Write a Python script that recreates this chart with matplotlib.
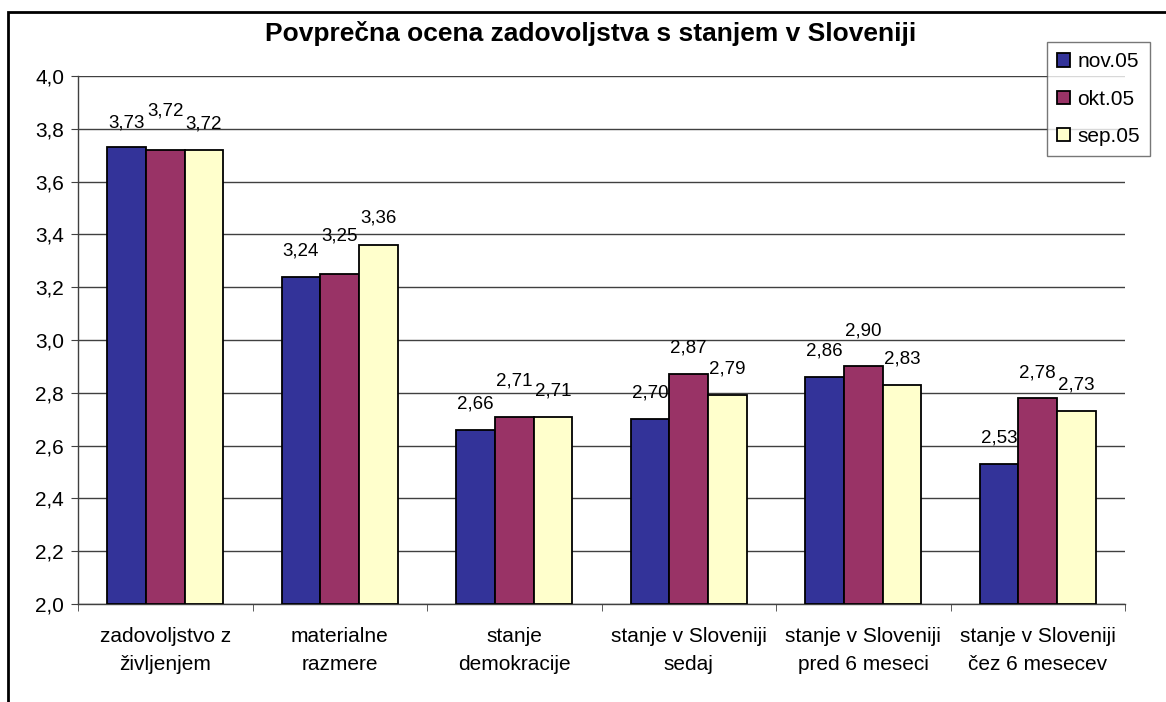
"""Average rating of satisfaction with the state in Slovenia - grouped bar chart."""

import matplotlib

matplotlib.use("Agg")
import matplotlib.pyplot as plt
import numpy as np
from matplotlib.patches import Rectangle

categories = [
    "zadovoljstvo z\nživljenjem",
    "materialne\nrazmere",
    "stanje\ndemokracije",
    "stanje v Sloveniji\nsedaj",
    "stanje v Sloveniji\npred 6 meseci",
    "stanje v Sloveniji\nčez 6 mesecev",
]
series_names = ["nov.05", "okt.05", "sep.05"]
nov_05 = [3.73, 3.24, 2.66, 2.70, 2.86, 2.53]
okt_05 = [3.72, 3.25, 2.71, 2.87, 2.90, 2.78]
sep_05 = [3.72, 3.36, 2.71, 2.79, 2.83, 2.73]
y_ticks = [2.0, 2.2, 2.4, 2.6, 2.8, 3.0, 3.2, 3.4, 3.6, 3.8, 4.0]

colors = ["#333399", "#993366", "#FFFFCC"]
# label lift above bar top, in pixels (Excel bumped some labels up)
label_lift = [
    [24, 26, 26, 26, 26, 26],
    [39, 38, 36, 26, 35, 25],
    [26, 27, 26, 26, 26, 26],
]

plt.rcParams["font.family"] = ["Liberation Sans", "DejaVu Sans"]

fig = plt.figure(figsize=(11.66, 7.02), dpi=100)
ax = fig.add_axes([78 / 1166, 1 - 604 / 702, (1125 - 78) / 1166, (604 - 76) / 702])

# figure frame (cropped on right and bottom)
fig.patches.append(
    Rectangle((8 / 1166, -0.1), 1.2, 1.1 - 12 / 702, transform=fig.transFigure,
              fill=False, edgecolor="black", linewidth=2, zorder=10)
)

x = np.arange(len(categories))
bar_w = 0.222
all_series = [nov_05, okt_05, sep_05]
for i, (name, vals, col) in enumerate(zip(series_names, all_series, colors)):
    xs = x + (i - 1) * bar_w
    ax.bar(xs, np.array(vals) - 2.0, bottom=2.0, width=bar_w, color=col,
           edgecolor="black", linewidth=1.3, label=name, zorder=3)
    for xi, v, lift in zip(xs, vals, label_lift[i]):
        ax.annotate(f"{v:.2f}".replace(".", ","), xy=(xi, v),
                    xytext=(0, lift * 0.72), textcoords="offset points",
                    ha="center", va="center", fontsize=13.5, zorder=4)

ax.set_xlim(-0.5, len(categories) - 0.5)
ax.set_ylim(2.0, 4.0)
ax.set_yticks(y_ticks)
ax.set_yticklabels([f"{t:.1f}".replace(".", ",") for t in y_ticks], fontsize=15)
ax.set_xticks(x)
ax.set_xticklabels(categories, fontsize=15, linespacing=1.6)
ax.set_xticks(np.arange(len(categories) + 1) - 0.5, minor=True)
ax.tick_params(axis="x", which="major", length=0, pad=16.5)
ax.tick_params(axis="x", which="minor", length=5, color="#404040")
ax.tick_params(axis="y", length=5, color="#404040", pad=5)

ax.grid(axis="y", color="#404040", linewidth=1, zorder=1)
ax.set_axisbelow(True)
for side in ["top", "right"]:
    ax.spines[side].set_visible(False)
for side in ["left", "bottom"]:
    ax.spines[side].set_color("#404040")
    ax.spines[side].set_linewidth(1)

fig.text(591 / 1166, 1 - 33 / 702, "Povprečna ocena zadovoljstva s stanjem v Sloveniji",
         ha="center", va="center", fontsize=19, fontweight="bold")

leg = fig.legend(loc="upper left", bbox_to_anchor=(1047 / 1166, 1 - 42 / 702),
                 fontsize=15, frameon=True, fancybox=False, edgecolor="#555555",
                 handlelength=0.6, handleheight=0.6, handletextpad=0.35,
                 labelspacing=0.87, borderpad=0.5, borderaxespad=0)
leg.get_frame().set_linewidth(1)

plt.savefig("out.png", dpi=100)
plt.close(fig)
